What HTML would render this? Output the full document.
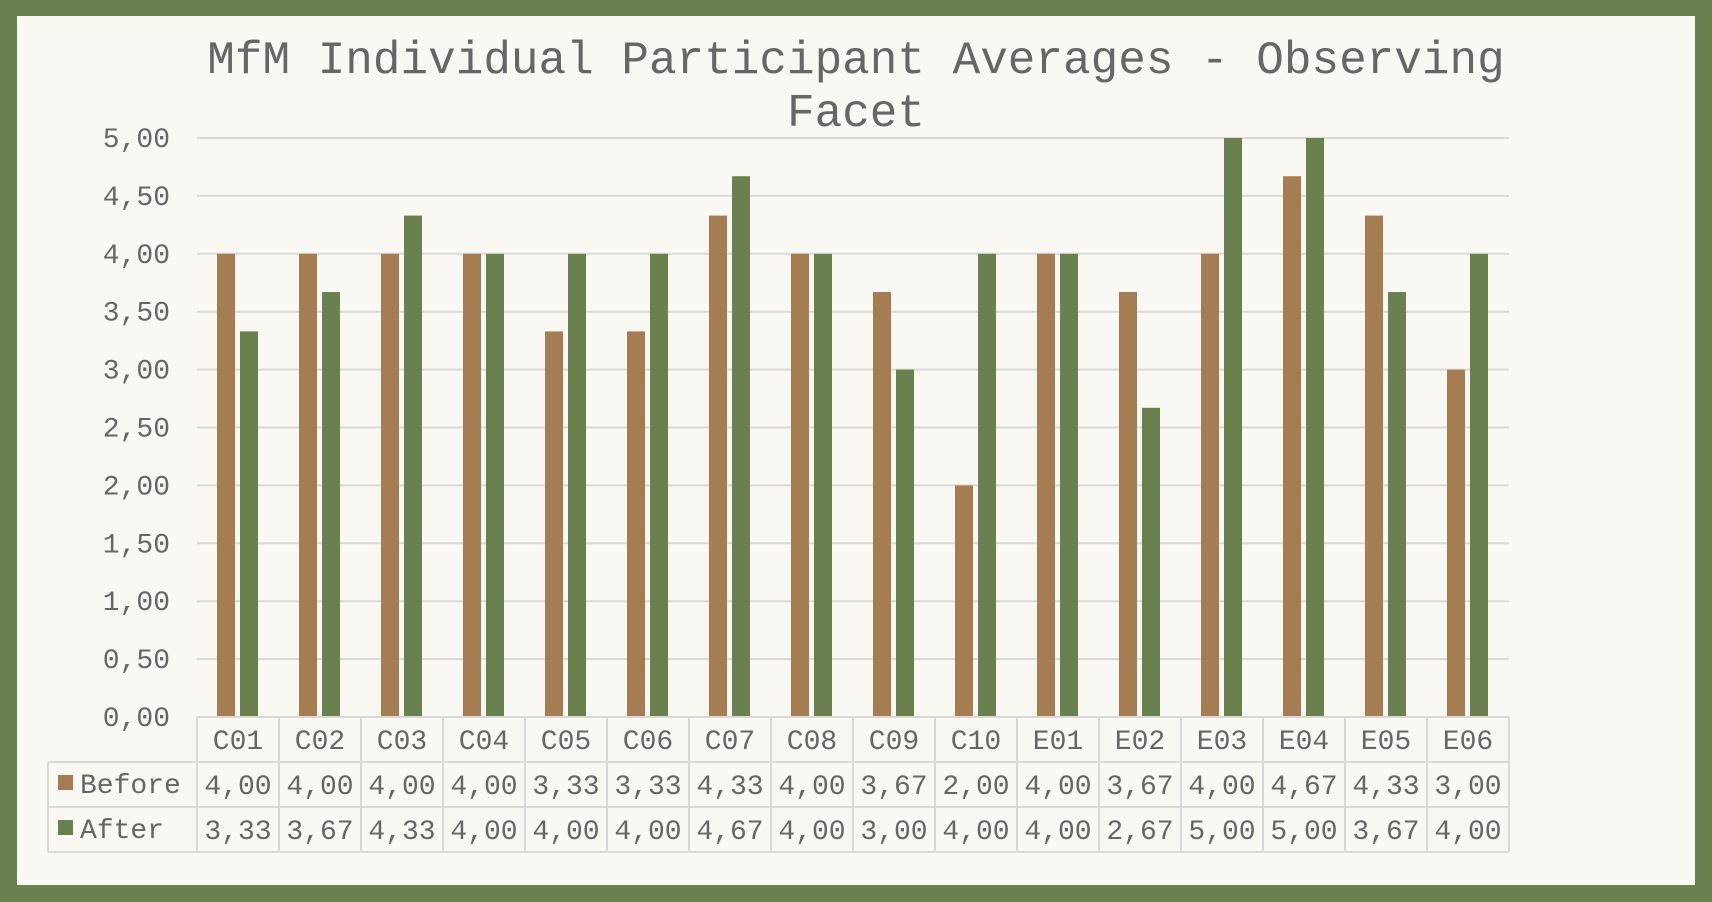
<!DOCTYPE html>
<html><head><meta charset="utf-8"><style>
html,body{margin:0;padding:0;}
body{width:1712px;height:902px;background:#6B804F;position:relative;overflow:hidden;}
</style></head><body>
<svg width="1712" height="902" style="position:absolute;left:0;top:0" font-family="'Liberation Mono',monospace">
<rect x="17" y="16" width="1678" height="869" fill="#F9F8F3"/>
<g fill="#666666" font-size="46" text-anchor="middle">
<text x="856" y="73">MfM Individual Participant Averages - Observing</text>
<text x="856" y="126">Facet</text>
</g>
<g id="grid" stroke="#D9D9D9" stroke-width="2"></g>
<g id="ylab" fill="#666666" font-size="28" text-anchor="end"></g>
<g id="bars"></g>
<g id="tbl" stroke="#D9D9D9" stroke-width="2" fill="none"></g>
<g id="ttxt" fill="#666666" font-size="28" text-anchor="middle"></g>
<rect x="58" y="775" width="15" height="15" fill="#A67C52"/>
<rect x="58" y="820" width="15" height="15" fill="#6B804F"/>
<g fill="#666666" font-size="28">
<text x="80" y="793">Before</text>
<text x="80" y="838">After</text>
</g>
</svg>
<script>
(function(){
var ns="http://www.w3.org/2000/svg";
function el(p,t,a,txt){var e=document.createElementNS(ns,t);for(var k in a)e.setAttribute(k,a[k]);if(txt!=null)e.textContent=txt;document.getElementById(p).appendChild(e);}
var T=138,zero=717,L=197,W=82,n=16;
for(var i=0;i<=10;i++){var y=zero-(zero-T)*i/10;
 if(i>0)el("grid","line",{x1:L,x2:L+W*n,y1:y,y2:y});
 el("ylab","text",{x:170,y:y+9},(i*0.5).toFixed(2).replace(".",","));}
var cats=["C01","C02","C03","C04","C05","C06","C07","C08","C09","C10","E01","E02","E03","E04","E05","E06"];
var b=[4,4,4,4,3.33,3.33,4.33,4,3.67,2,4,3.67,4,4.67,4.33,3];
var a=[3.33,3.67,4.33,4,4,4,4.67,4,3,4,4,2.67,5,5,3.67,4];
var s=(zero-T)/5;
for(var i=0;i<n;i++){var x=L+W*i;
 el("bars","rect",{x:x+20,y:zero-b[i]*s,width:18,height:b[i]*s,fill:"#A67C52"});
 el("bars","rect",{x:x+43,y:zero-a[i]*s,width:18,height:a[i]*s,fill:"#6B804F"});
 el("ttxt","text",{x:x+W/2,y:749},cats[i]);
 el("ttxt","text",{x:x+W/2,y:794},b[i].toFixed(2).replace(".",","));
 el("ttxt","text",{x:x+W/2,y:839},a[i].toFixed(2).replace(".",","));
}
var R=L+W*n;
el("tbl","line",{x1:L,x2:R,y1:zero,y2:zero});
el("tbl","line",{x1:48,x2:R,y1:762,y2:762});
el("tbl","line",{x1:48,x2:R,y1:807,y2:807});
el("tbl","line",{x1:48,x2:R,y1:852,y2:852});
el("tbl","line",{x1:48,x2:48,y1:762,y2:852});
for(var i=0;i<=n;i++)el("tbl","line",{x1:L+W*i,x2:L+W*i,y1:zero,y2:852});
})();
</script>
</body></html>
